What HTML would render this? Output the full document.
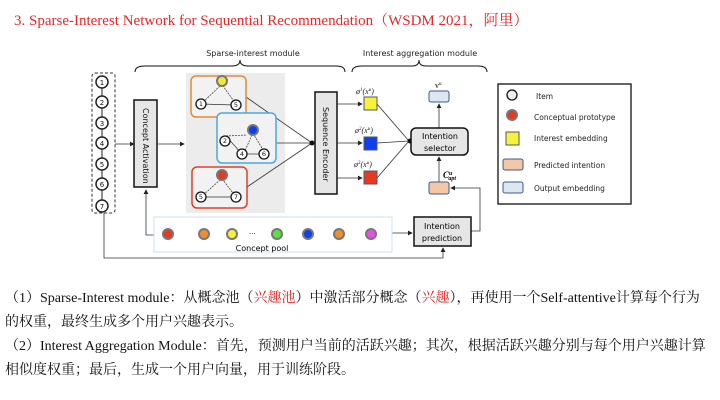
<!DOCTYPE html>
<html><head><meta charset="utf-8"><style>
body{margin:0;background:#fff;width:720px;height:400px;overflow:hidden}
svg{display:block}
.t{font-family:"Liberation Serif","Noto Serif CJK SC",serif}
.s{font-family:"DejaVu Sans","Liberation Sans",sans-serif}
</style></head><body>
<svg width="720" height="400" viewBox="0 0 720 400">
<defs><marker id="a" markerWidth="6" markerHeight="6" refX="5" refY="3" orient="auto"><path d="M0,0 L6,3 L0,6z" fill="#222"/></marker></defs>
<text class="t" x="14" y="25" font-size="15" fill="#e8262a">3. Sparse-Interest Network for Sequential Recommendation（WSDM 2021，阿里）</text>
<g class="s" font-size="8" fill="#222">
<text x="253" y="56" text-anchor="middle">Sparse-interest module</text>
<text x="420" y="56" text-anchor="middle">Interest aggregation module</text>
</g>
<g fill="none" stroke="#111" stroke-width="1">
<path d="M135,72 Q135,66 145,66 L232,66 Q240,66 240,60 Q240,66 248,66 L336,66 Q345,66 345,72"/>
<path d="M352,72 Q352,66 362,66 L412,66 Q419,66 419,60 Q419,66 426,66 L478,66 Q487,66 487,72"/>
</g>
<rect x="92" y="73" width="23" height="140" rx="3" fill="none" stroke="#333" stroke-dasharray="3,2"/>
<g stroke="#222" stroke-width="1" class="s" font-size="7" text-anchor="middle">
<line x1="102" y1="88" x2="102" y2="200"/>
<g fill="#fff" stroke-width="1.5"><circle cx="102" cy="82" r="6"/><circle cx="102" cy="102" r="6"/><circle cx="102" cy="123" r="6"/><circle cx="102" cy="143" r="6"/><circle cx="102" cy="164" r="6"/><circle cx="102" cy="184" r="6"/><circle cx="102" cy="206" r="6"/></g>
<g stroke="none" fill="#111"><text x="102" y="85">1</text><text x="102" y="105">2</text><text x="102" y="126">3</text><text x="102" y="146">4</text><text x="102" y="167">5</text><text x="102" y="187">6</text><text x="102" y="209">7</text></g>
</g>
<rect x="186" y="73" width="99" height="140" fill="#ececec"/>
<rect x="134" y="100" width="23" height="87" fill="#e6e6e6" stroke="#111" stroke-width="1.5"/>
<text class="s" font-size="8" transform="translate(143,108) rotate(90)" fill="#111">Concept Activation</text>
<rect x="315" y="92" width="22" height="102" fill="#e6e6e6" stroke="#111" stroke-width="1.5"/>
<text class="s" font-size="8" transform="translate(323,107) rotate(90)" fill="#111">Sequence Encoder</text>
<g stroke="#333" fill="none" stroke-width="0.8">
<line x1="115" y1="144" x2="134" y2="144" marker-end="url(#a)"/>
<line x1="157" y1="144" x2="184" y2="144" marker-end="url(#a)"/>
<line x1="246" y1="97" x2="312" y2="143"/><line x1="276" y1="143" x2="312" y2="143"/><line x1="247" y1="187" x2="312" y2="143"/>
<line x1="337" y1="104" x2="362" y2="104" marker-end="url(#a)"/>
<line x1="337" y1="143" x2="362" y2="143" marker-end="url(#a)"/>
<line x1="337" y1="178" x2="362" y2="178" marker-end="url(#a)"/>
<line x1="377" y1="104" x2="409" y2="141"/><line x1="377" y1="143" x2="409" y2="141"/><line x1="377" y1="178" x2="409" y2="141"/>
<line x1="439" y1="128" x2="439" y2="104" marker-end="url(#a)"/>
<line x1="439" y1="182" x2="439" y2="157" marker-end="url(#a)"/>
<polyline points="471,231 480,231 480,188 451,188" marker-end="url(#a)"/>
<polyline points="392,233 412,233" marker-end="url(#a)"/>
<polyline points="154,235 146,235 146,190" marker-end="url(#a)"/>
<polyline points="104,213 104,258 443,258 443,248" marker-end="url(#a)"/>
</g>
<circle cx="312" cy="143" r="2.5" fill="#111"/><circle cx="410" cy="141" r="2.5" fill="#111"/>
<!-- subgraphs -->
<rect x="191" y="76" width="55" height="41" rx="5" fill="#f2f2f2" stroke="#e08a3c" stroke-width="1.5"/>
<rect x="217" y="113" width="59" height="50" rx="5" fill="#f2f2f2" stroke="#4aa8e0" stroke-width="1.5"/>
<rect x="192" y="167" width="55" height="41" rx="5" fill="#f2f2f2" stroke="#e0402a" stroke-width="1.5"/>
<g stroke="#333" stroke-width="0.7" fill="none">
<line x1="201" y1="104" x2="234" y2="105"/><line x1="201" y1="104" x2="220" y2="86" stroke-dasharray="2,1"/><line x1="236" y1="104" x2="223" y2="86" stroke-dasharray="2,1"/>
<line x1="226" y1="136" x2="247" y2="135" stroke-dasharray="2,1"/><line x1="226" y1="136" x2="241" y2="153"/><line x1="244" y1="154" x2="260" y2="154"/><line x1="244" y1="153" x2="252" y2="135" stroke-dasharray="2,1"/><line x1="265" y1="153" x2="254" y2="135" stroke-dasharray="2,1"/>
<line x1="201" y1="197" x2="230" y2="197"/><line x1="201" y1="197" x2="220" y2="180" stroke-dasharray="2,1"/><line x1="236" y1="197" x2="223" y2="180" stroke-dasharray="2,1"/>
</g>
<g stroke="#777" stroke-width="2"><circle cx="222" cy="81" r="5" fill="#f5e73a"/><circle cx="253" cy="130" r="5" fill="#1040e8"/><circle cx="222" cy="175" r="5" fill="#e53a22"/></g>
<g fill="#fff" stroke="#111" stroke-width="1.3"><circle cx="201" cy="104" r="5"/><circle cx="236" cy="105" r="5"/><circle cx="225" cy="141" r="5"/><circle cx="242" cy="154" r="5"/><circle cx="264" cy="154" r="5"/><circle cx="201" cy="197" r="5"/><circle cx="236" cy="197" r="5"/></g>
<g class="s" font-size="6.5" text-anchor="middle" fill="#111"><text x="201" y="106">1</text><text x="236" y="107">5</text><text x="225" y="143">2</text><text x="242" y="156">4</text><text x="264" y="156">6</text><text x="201" y="199">5</text><text x="236" y="199">7</text></g>
<!-- embeddings -->
<g stroke="#556" stroke-width="1"><rect x="364" y="97" width="13" height="13" fill="#f7f23a"/><rect x="364" y="137" width="13" height="13" fill="#1040f0"/><rect x="364" y="171" width="13" height="13" fill="#e53a22"/></g>
<g class="t" font-size="8" fill="#222" font-style="italic"><text x="356" y="94">ø<tspan font-size="5" dy="-3">1</tspan><tspan dy="3">(x</tspan><tspan font-size="5" dy="-3">u</tspan><tspan dy="3">)</tspan></text><text x="355" y="133">ø<tspan font-size="5" dy="-3">2</tspan><tspan dy="3">(x</tspan><tspan font-size="5" dy="-3">u</tspan><tspan dy="3">)</tspan></text><text x="354" y="167">ø<tspan font-size="5" dy="-3">3</tspan><tspan dy="3">(x</tspan><tspan font-size="5" dy="-3">u</tspan><tspan dy="3">)</tspan></text></g>
<rect x="411" y="128" width="57" height="27" rx="5" fill="#e6e6e6" stroke="#111" stroke-width="1.5"/>
<text class="s" font-size="8" x="440" y="139" text-anchor="middle">Intention</text><text class="s" font-size="8" x="440" y="151" text-anchor="middle">selector</text>
<rect x="429" y="91" width="20" height="11" rx="2" fill="#dde7f2" stroke="#3c5a8a"/>
<text class="t" x="435" y="88" font-size="8">v<tspan font-size="5" dy="-3">u</tspan></text>
<rect x="429" y="182" width="20" height="12" rx="2" fill="#f2c8a8" stroke="#3c5a8a"/>
<text class="t" x="443" y="178" font-size="9" font-weight="bold" font-style="italic">C<tspan font-size="6" dy="-3">u</tspan><tspan font-size="6" dx="-4" dy="5">apt</tspan></text>
<rect x="414" y="217" width="57" height="29" fill="#e6e6e6" stroke="#111" stroke-width="1.5"/>
<text class="s" font-size="8" x="442" y="229" text-anchor="middle">Intention</text><text class="s" font-size="8" x="442" y="241" text-anchor="middle">prediction</text>
<!-- concept pool -->
<rect x="154" y="217" width="238" height="35" fill="#fff" stroke="#cfe0ef"/>
<g stroke="#777" stroke-width="2"><circle cx="168" cy="234" r="5" fill="#e53a22"/><circle cx="204" cy="234" r="5" fill="#ef9030"/><circle cx="232" cy="234" r="5" fill="#f5f03a"/><circle cx="277" cy="234" r="5" fill="#5ce040"/><circle cx="308" cy="234" r="5" fill="#1040e8"/><circle cx="339" cy="234" r="5" fill="#ef9030"/><circle cx="371" cy="234" r="5" fill="#e850e8"/></g>
<text class="s" font-size="7" x="249" y="234">...</text>
<text class="s" font-size="8" x="262" y="251" text-anchor="middle">Concept pool</text>
<!-- legend -->
<rect x="498" y="84" width="133" height="120" fill="#fff" stroke="#111" stroke-width="1.3"/>
<g class="s" font-size="7.5" fill="#222"><text x="536" y="99">Item</text><text x="534" y="120">Conceptual prototype</text><text x="534" y="141">Interest embedding</text><text x="534" y="168">Predicted intention</text><text x="534" y="191">Output embedding</text></g>
<circle cx="512" cy="95" r="5" fill="#eee" stroke="#111" stroke-width="1.3"/>
<circle cx="512" cy="115" r="5" fill="#e53a22" stroke="#777" stroke-width="2"/>
<rect x="506" y="132" width="13" height="13" fill="#f7f23a" stroke="#556"/>
<rect x="503" y="159" width="20" height="11" rx="2" fill="#f2c8a8" stroke="#3c5a8a"/>
<rect x="503" y="182" width="20" height="11" rx="2" fill="#dde7f2" stroke="#3c5a8a"/>
<g class="t" font-size="14" fill="#111">
<text x="5" y="302">（1）Sparse-Interest module：从概念池（<tspan fill="#e8262a">兴趣池</tspan>）中激活部分概念（<tspan fill="#e8262a">兴趣</tspan>），再使用一个Self-attentive计算每个行为</text>
<text x="5" y="326">的权重，最终生成多个用户兴趣表示。</text>
<text x="5" y="350">（2）Interest Aggregation Module：首先，预测用户当前的活跃兴趣；其次，根据活跃兴趣分别与每个用户兴趣计算</text>
<text x="5" y="374">相似度权重；最后，生成一个用户向量，用于训练阶段。</text>
</g>
</svg>
</body></html>
